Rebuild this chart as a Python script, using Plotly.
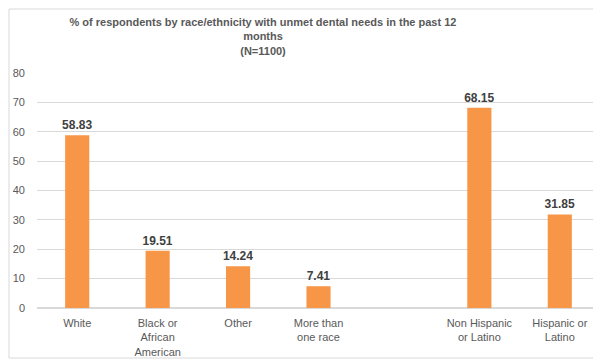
import plotly.graph_objects as go

categories = ["White", "Black or<br>African<br>American", "Other", "More than<br>one race", " ",
              "Non Hispanic<br>or Latino", "Hispanic or<br>Latino"]
values = [58.83, 19.51, 14.24, 7.41, None, 68.15, 31.85]
labels = ["58.83", "19.51", "14.24", "7.41", "", "68.15", "31.85"]
y_ticks = [0, 10, 20, 30, 40, 50, 60, 70, 80]

W, H = 593, 352
fig = go.Figure(go.Bar(
    x=categories, y=values, text=labels, textposition="outside", constraintext="none",
    textfont=dict(family="Liberation Sans, Arial", size=12, color="#404040", weight="bold"),
    marker=dict(color="#F79646", line=dict(width=0)),
    cliponaxis=False, hoverinfo="skip",
))
fig.update_layout(
    width=W, height=H,
    margin=dict(l=29, r=1, t=65, b=52, autoexpand=False),
    paper_bgcolor="white", plot_bgcolor="white",
    bargap=0.7, showlegend=False,
    font=dict(family="Liberation Sans, Arial", size=11, color="#595959"),
    title=dict(
        text="<b>% of respondents by race/ethnicity with unmet dental needs in the past 12<br>months<br>(N=1100)</b>",
        x=255 / W, xanchor="center", y=1 - 18 / H, yanchor="top",
        font=dict(family="Liberation Sans, Arial", size=11, color="#595959"),
    ),
    xaxis=dict(type="category", categoryorder="array", categoryarray=categories, automargin=False,
               showgrid=False, showline=False, ticks="", tickfont=dict(size=11, color="#595959"),
               tickangle=0, ticklabelstandoff=7),
    yaxis=dict(range=[0, 80], tickvals=y_ticks, showgrid=True, gridcolor="#D9D9D9", gridwidth=1,
               zeroline=True, zerolinecolor="#D9D9D9", showline=False, ticks="", automargin=False,
               tickfont=dict(size=11, color="#595959"), ticklabelstandoff=11),
    shapes=[dict(type="rect", xref="paper", yref="paper", x0=-28 / 563, x1=1.0, y0=-50 / 235, y1=1 + 64 / 235,
                 line=dict(color="#D9D9D9", width=1), fillcolor="rgba(0,0,0,0)", layer="below")],
)
fig.write_html("out.html")
